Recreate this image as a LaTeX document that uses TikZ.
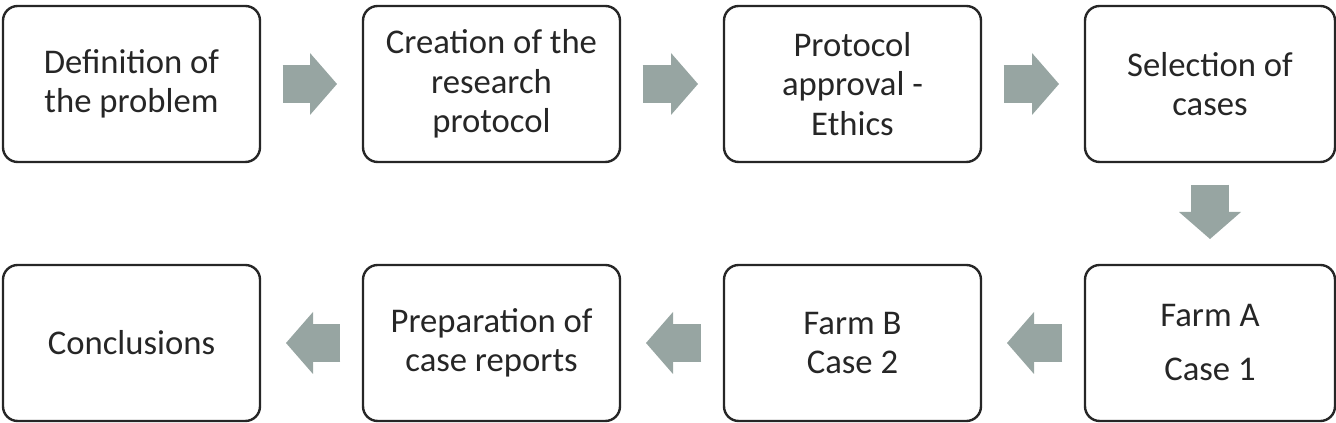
\documentclass[tikz,border=0pt]{standalone}
\usepackage{fontspec}
\setmainfont{Carlito}
\usetikzlibrary{arrows.meta}
\definecolor{boxline}{RGB}{38,38,38}
\definecolor{arrowgray}{RGB}{151,165,162}
\tikzset{
  stage/.style={draw=boxline, line width=1.8pt, rounded corners=11pt,
    minimum width=192.75pt, minimum height=117pt, inner sep=0pt, outer sep=0pt,
    align=center, text=boxline, font=\fontsize{26}{29.5}\selectfont},
  laststage/.style={stage, minimum width=187.5pt},
  flow/.style={draw=arrowgray, line width=28.5pt, shorten <=17pt, shorten >=19.5pt,
    -{Triangle[length=20.25pt,width=46.5pt,line width=0pt]}},
}
\begin{document}
\begin{tikzpicture}[x=0.75pt,y=0.75pt,yscale=-1,xscale=1]
\useasboundingbox (0,0) rectangle (1336,423);

% Top row
\node[stage] (problem) at (131.5,84) {Definition of\\the problem};
\node[stage] (protocol) at (491.5,84) {Creation of the\\research\\protocol};
\node[stage] (ethics) at (852.5,84) {Protocol\\approval -\\Ethics};
\node[laststage] (cases) at (1210,84) {Selection of\\cases};

% Bottom row
\node[laststage] (farmA) at (1210,343) {Farm A\\[11pt]Case 1};
\node[stage] (farmB) at (852.5,343) {Farm B\\Case 2};
\node[stage] (reports) at (491.5,343) {Preparation of\\case reports};
\node[stage] (concl) at (131.5,343) {Conclusions};

% Block arrows
\draw[flow] (problem) -- (protocol);
\draw[flow] (protocol) -- (ethics);
\draw[flow] (ethics) -- (cases);
\draw[flow] (cases) -- (farmA);
\draw[flow] (farmA) -- (farmB);
\draw[flow] (farmB) -- (reports);
\draw[flow] (reports) -- (concl);

\end{tikzpicture}
\end{document}
